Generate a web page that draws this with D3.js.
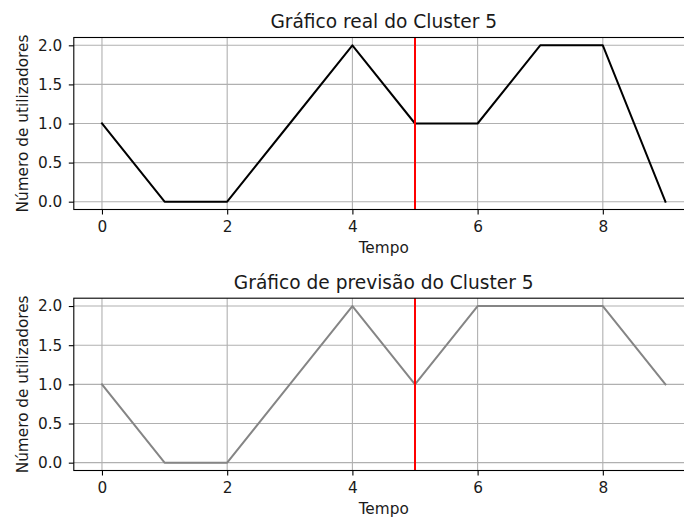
<!DOCTYPE html>
<html>
<head>
<meta charset="utf-8">
<script src="https://cdn.jsdelivr.net/npm/d3@7"></script>
<style>
  html, body { margin: 0; padding: 0; background: #fff; }
  svg { display: block; font-family: "DejaVu Sans", sans-serif; }
</style>
</head>
<body>
<svg id="chart" width="684" height="519"></svg>
<script>
// Time steps and user counts for cluster 5
const tempo = [0, 1, 2, 3, 4, 5, 6, 7, 8, 9];
const real = [1, 0, 0, 1, 2, 1, 1, 2, 2, 0];
const previsao = [1, 0, 0, 1, 2, 1, 2, 2, 2, 1];
const xTicks = [0, 2, 4, 6, 8];
const yTicks = [0.0, 0.5, 1.0, 1.5, 2.0];
const marker = 5;

const titles = ["Gráfico real do Cluster 5", "Gráfico de previsão do Cluster 5"];
const xLabel = "Tempo";
const yLabel = "Número de utilizadores";

const svg = d3.select("#chart");

// axis frame: left edge and plot width (the frame runs past the right edge)
const left = 73.8, right = 693.6;
const tickFont = "15.3px", titleFont = "18.6px";

const panels = [
  { top: 37.5, bottom: 209.5, values: real, color: "#000000", title: titles[0] },
  { top: 298.2, bottom: 470.5, values: previsao, color: "#858585", title: titles[1] }
];

const x = d3.scaleLinear().domain([-0.45, 9.45]).range([left, right]);

panels.forEach(p => {
  const y = d3.scaleLinear().domain([-0.1, 2.1]).range([p.bottom, p.top]);
  const g = svg.append("g");

  // grid
  g.append("g").selectAll("line").data(xTicks).join("line")
    .attr("x1", d => x(d)).attr("x2", d => x(d))
    .attr("y1", p.top).attr("y2", p.bottom)
    .attr("stroke", "#b0b0b0").attr("stroke-width", 1.1);
  g.append("g").selectAll("line").data(yTicks).join("line")
    .attr("x1", left).attr("x2", right)
    .attr("y1", d => y(d)).attr("y2", d => y(d))
    .attr("stroke", "#b0b0b0").attr("stroke-width", 1.1);

  // series line
  const line = d3.line().x((d, i) => x(tempo[i])).y(d => y(d));
  g.append("path").datum(p.values)
    .attr("d", line).attr("fill", "none")
    .attr("stroke", p.color).attr("stroke-width", 2)
    .attr("stroke-linejoin", "round").attr("stroke-linecap", "square");

  // vertical marker at t = 5
  g.append("line")
    .attr("x1", x(marker)).attr("x2", x(marker))
    .attr("y1", p.top).attr("y2", p.bottom)
    .attr("stroke", "#ff0000").attr("stroke-width", 2);

  // spines
  g.append("rect")
    .attr("x", left).attr("y", p.top)
    .attr("width", right - left).attr("height", p.bottom - p.top)
    .attr("fill", "none").attr("stroke", "#000").attr("stroke-width", 1.1);

  // axes
  const xAxis = d3.axisBottom(x).tickValues(xTicks).tickFormat(d3.format("d"))
    .tickSizeInner(5).tickSizeOuter(0).tickPadding(6.2);
  const gx = g.append("g").attr("transform", `translate(0,${p.bottom})`).call(xAxis);
  const yAxis = d3.axisLeft(y).tickValues(yTicks).tickFormat(d3.format(".1f"))
    .tickSizeInner(5).tickSizeOuter(0).tickPadding(6.5);
  const gy = g.append("g").attr("transform", `translate(${left},0)`).call(yAxis);
  [gx, gy].forEach(a => {
    a.select(".domain").remove();
    a.selectAll(".tick line").attr("stroke", "#000").attr("stroke-width", 1.1);
    a.selectAll(".tick text").attr("fill", "#1a1a1a")
      .style("font-family", "DejaVu Sans").style("font-size", tickFont);
  });

  // labels
  const cx = (left + right) / 2;
  g.append("text").attr("x", cx).attr("y", p.top - 9.5)
    .attr("text-anchor", "middle").attr("fill", "#1a1a1a")
    .style("font-size", titleFont).text(p.title);
  g.append("text").attr("x", cx).attr("y", p.bottom + 43.5)
    .attr("text-anchor", "middle").attr("fill", "#1a1a1a")
    .style("font-size", tickFont).text(xLabel);
  g.append("text")
    .attr("transform", `translate(28,${(p.top + p.bottom) / 2}) rotate(-90)`)
    .attr("text-anchor", "middle").attr("fill", "#1a1a1a")
    .style("font-size", tickFont).text(yLabel);
});
</script>
</body>
</html>
